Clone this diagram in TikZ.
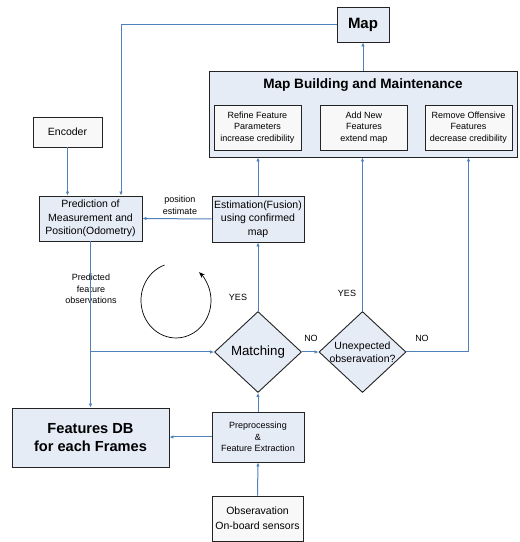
\documentclass[tikz,border=0pt]{standalone}
\usepackage{fontspec}
\setmainfont{Liberation Sans}
\usetikzlibrary{arrows.meta,shapes.geometric}

\begin{document}
\begin{tikzpicture}[x=1pt,y=1pt,
  box/.style={draw=edgeColor,line width=0.9pt,fill=boxColor,inner sep=0pt,align=center,
    font=\fontsize{10.5}{13.6}\selectfont},
  greybox/.style={box,fill=greyColor},
  smallbox/.style={greybox,minimum width=87pt,minimum height=45pt,font=\fontsize{9}{11.4}\selectfont},
  decision/.style={draw=edgeColor,line width=0.9pt,fill=boxColor,diamond,inner sep=0pt,
    minimum width=87pt,minimum height=81pt},
  flow/.style={draw=lineColor,line width=1pt,-{Latex[length=4pt,width=3.5pt]}},
  note/.style={inner sep=0pt,align=center,font=\fontsize{9}{11.6}\selectfont},
  loopline/.style={draw=black,line width=0.7pt,-{Stealth[length=6pt,width=4.5pt]}}]
\definecolor{lineColor}{RGB}{79,129,189}
\definecolor{boxColor}{RGB}{230,236,246}
\definecolor{greyColor}{RGB}{248,248,248}
\definecolor{edgeColor}{RGB}{35,35,35}
\path[use as bounding box,fill=white] (0,0) rectangle (520,542);

\node[box,minimum width=52pt,minimum height=35pt,font=\fontsize{15}{18}\bfseries] (map) at (363,517.5) {Map};

\node[box,minimum width=308pt,minimum height=86pt] (mbm) at (363,428) {};
\node[inner sep=0pt,font=\fontsize{13.6}{16}\bfseries] (mbmtitle) at ([yshift=-14pt]mbm.north) {Map Building and Maintenance};
\node[smallbox] (refine) at (257.5,414.5) {Refine Feature\\Parameters\\increase credibility};
\node[smallbox] (addnew) at (364,414.5) {Add New\\Features\\extend map};
\node[smallbox] (remove) at (468.5,414.5) {Remove Offensive\\Features\\decrease credibility};

\node[greybox,minimum width=69pt,minimum height=30pt] (encoder) at (67.5,410) {Encoder};
\node[box,minimum width=103pt,minimum height=45pt] (pred) at (90.5,323.5) {Prediction of\\Measurement and\\Position(Odometry)};
\node[box,minimum width=92pt,minimum height=46pt] (est) at (258,323) {Estimation(Fusion)\\using confirmed\\map};

\node[decision,label={[inner sep=0pt,font=\fontsize{13.3}{16}\selectfont]center:Matching}] (match) at (258,190) {};
\node[decision,label={[inner sep=0pt,align=center,font=\fontsize{10.5}{13}\selectfont]center:Unexpected\\obseravation?}] (unexp) at (362.5,190) {};

\node[box,minimum width=157pt,minimum height=59pt,font=\fontsize{14.6}{18}\bfseries] (fdb) at (90.5,104.5) {Features DB\\for each Frames};
\node[box,minimum width=92pt,minimum height=50pt,font=\fontsize{9}{11.7}\selectfont] (prep) at (258,105) {Preprocessing\\\&\\Feature Extraction};
\node[greybox,minimum width=91pt,minimum height=45pt,font=\fontsize{10.5}{14.6}\selectfont] (obs) at (257.5,23.5) {Obseravation\\On-board sensors};

\node[note] (posest) at (180,337) {position\\estimate};
\node[note] (predobs) at (91,253) {Predicted\\feature\\observations};
\node[note] (yes1) at (238,245) {YES};
\node[note] (yes2) at (347,249) {YES};
\node[note] (no1) at (311,204) {NO};
\node[note] (no2) at (422,204) {NO};

\coordinate (split) at (pred.south |- match.west);

\draw[flow] (mbm.north) -- (map.south);
\draw[flow] (map.west) -| ([xshift=30.5pt]pred.north);
\draw[flow] (encoder.south) -- (encoder.south |- pred.north);
\draw[flow] (est.west) -- (pred.east);
\draw[flow] (est.north) -- (est.north |- mbm.south);
\draw[flow] (match.north) -- (est.south);
\draw[flow] (match.east) -- (unexp.west);
\draw[flow] (unexp.north) -- (unexp.north |- mbm.south);
\draw[flow] (unexp.east) -| (remove.south |- mbm.south);
\draw[flow] (pred.south) -- (fdb.north);
\draw[flow] (split) -- (match.west);
\draw[flow] (prep.west) -- (prep.west -| fdb.east);
\draw[flow] (prep.north) -- (match.south);
\draw[flow] (obs.north) -- (prep.south);

\draw[loopline] (164.6,277) arc[start angle=109,end angle=409,x radius=35,y radius=37.5];
\end{tikzpicture}
\end{document}
